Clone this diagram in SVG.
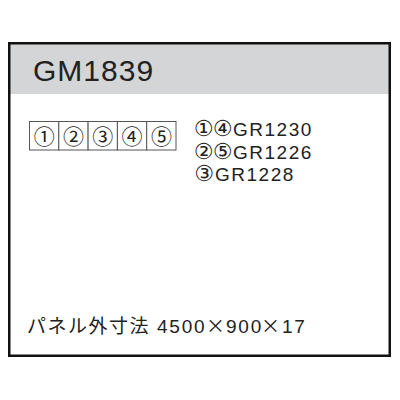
<svg xmlns="http://www.w3.org/2000/svg" width="400" height="400" viewBox="0 0 400 400">
<style>
.t{font-family:"Liberation Sans","Noto Sans CJK JP",sans-serif;fill:#222}
.j{font-family:"Noto Sans CJK JP",sans-serif}
.d{font-family:"DejaVu Sans",sans-serif;font-size:22px;text-anchor:middle}
.c{font-family:"Noto Sans CJK JP",sans-serif;fill:#222;font-size:21px;text-anchor:middle}
.cell{fill:#fff;stroke:#555;stroke-width:1}
</style>
<rect width="400" height="400" fill="#fff"/>
<g id="frame">
<rect x="9.5" y="44" width="379.5" height="50" fill="#d4d5d7"/>
<rect x="9.25" y="43.25" width="380.5" height="312.5" fill="none" stroke="#111" stroke-width="2.5"/>
</g>
<g id="title"><text class="t" x="33" y="81" font-size="30" letter-spacing="1">GM1839</text></g>
<g id="cells">
<rect class="cell" x="29.5" y="121.5" width="29.3" height="28.5"/>
<rect class="cell" x="58.8" y="121.5" width="29.3" height="28.5"/>
<rect class="cell" x="88.1" y="121.5" width="29.3" height="28.5"/>
<rect class="cell" x="117.4" y="121.5" width="29.3" height="28.5"/>
<rect class="cell" x="146.7" y="121.5" width="29.3" height="28.5"/>
<text class="c" x="44.2" y="144">①</text>
<text class="c" x="73.5" y="144">②</text>
<text class="c" x="102.8" y="144">③</text>
<text class="c" x="132.1" y="144">④</text>
<text class="c" x="161.4" y="144">⑤</text>
</g>
<g id="legend">
<text class="t" y="135.5" font-size="19"><tspan class="d" x="203.5">①</tspan><tspan class="d" x="222.5">④</tspan><tspan x="233" letter-spacing="1.5">GR1230</tspan></text>
<text class="t" y="158.5" font-size="19"><tspan class="d" x="203.5">②</tspan><tspan class="d" x="222.5">⑤</tspan><tspan x="233" letter-spacing="1.5">GR1226</tspan></text>
<text class="t" y="181" font-size="19"><tspan class="d" x="204">③</tspan><tspan x="215" letter-spacing="1.5">GR1228</tspan></text>
</g>
<g id="size"><text class="t" y="332.5" font-size="19"><tspan class="j" x="27" letter-spacing="1.5">パネル外寸法</tspan><tspan x="157" letter-spacing="1.8">4500</tspan><tspan class="j" x="206">×</tspan><tspan x="226" letter-spacing="1.8">900</tspan><tspan class="j" x="261">×</tspan><tspan x="282" letter-spacing="1.8">17</tspan></text></g>
</svg>
